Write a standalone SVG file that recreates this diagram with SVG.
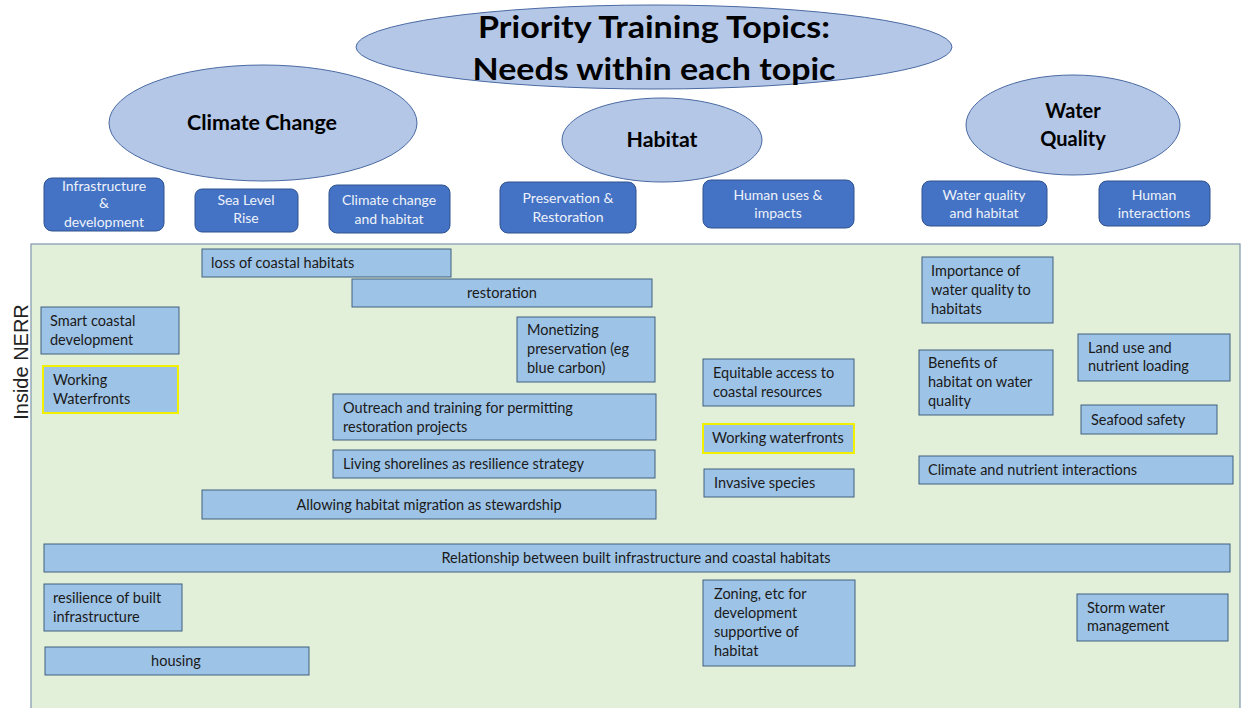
<svg xmlns="http://www.w3.org/2000/svg" width="1241" height="708" viewBox="0 0 1241 708">
<style>
.bg{fill:#ffffff}
.oval{fill:#b4c7e7;stroke:#4a6aa3;stroke-width:1}
.otxt{font-family:"Lato","Liberation Sans",sans-serif;font-weight:bold;fill:#000;text-anchor:middle}
.sub{fill:#4472c4;stroke:#2f528f;stroke-width:1}
.stxt{font-family:"Lato","Liberation Sans",sans-serif;font-size:14px;fill:#eef2fa;text-anchor:middle}
.panel{fill:#e2efd9;stroke:#7f96ad;stroke-width:1.2}
.box{fill:#9dc3e6;stroke:#41607f;stroke-width:1}
.hl{stroke:#f0f000;stroke-width:2}
.t{font-family:"Lato","Liberation Sans",sans-serif;font-size:14.5px;fill:#1a1a1a}
.c{text-anchor:middle}
</style>
<rect class="bg" x="0" y="0" width="1241" height="708"/>

<g id="title">
<ellipse class="oval" cx="654" cy="47" rx="298" ry="42"/>
<text class="otxt" x="654" y="38" font-size="31" textLength="352" lengthAdjust="spacingAndGlyphs">Priority Training Topics:</text>
<text class="otxt" x="654" y="80" font-size="31" textLength="363" lengthAdjust="spacingAndGlyphs">Needs within each topic</text>
</g>

<g id="climate-change">
<ellipse class="oval" cx="263" cy="123" rx="154" ry="58"/>
<text class="otxt" x="262" y="130" font-size="20" textLength="150" lengthAdjust="spacingAndGlyphs">Climate Change</text>
</g>
<g id="habitat">
<ellipse class="oval" cx="662" cy="140" rx="100" ry="42"/>
<text class="otxt" x="662" y="147" font-size="20" textLength="71" lengthAdjust="spacingAndGlyphs">Habitat</text>
</g>
<g id="water-quality">
<ellipse class="oval" cx="1073" cy="125" rx="107" ry="50"/>
<text class="otxt" x="1073" y="118" font-size="20">Water</text>
<text class="otxt" x="1073" y="146" font-size="20">Quality</text>
</g>

<g id="sub-infrastructure">
<rect class="sub" x="44" y="178" width="120" height="53" rx="8"/>
<text class="stxt" x="104" y="191">Infrastructure</text>
<text class="stxt" x="104" y="208">&amp;</text>
<text class="stxt" x="104" y="227">development</text>
</g>
<g id="sub-sea-level">
<rect class="sub" x="195" y="189" width="103" height="43" rx="7"/>
<text class="stxt" x="246" y="205">Sea Level</text>
<text class="stxt" x="246" y="223">Rise</text>
</g>
<g id="sub-climate-habitat">
<rect class="sub" x="329" y="185" width="121" height="48" rx="8"/>
<text class="stxt" x="389" y="205">Climate change</text>
<text class="stxt" x="389" y="224">and habitat</text>
</g>
<g id="sub-preservation">
<rect class="sub" x="500" y="182" width="136" height="51" rx="8"/>
<text class="stxt" x="568" y="203">Preservation &amp;</text>
<text class="stxt" x="568" y="222">Restoration</text>
</g>
<g id="sub-human-uses">
<rect class="sub" x="703" y="180" width="151" height="48" rx="8"/>
<text class="stxt" x="778" y="200">Human uses &amp;</text>
<text class="stxt" x="778" y="218">impacts</text>
</g>
<g id="sub-wq-habitat">
<rect class="sub" x="922" y="181" width="125" height="45" rx="8"/>
<text class="stxt" x="984" y="200">Water quality</text>
<text class="stxt" x="984" y="218">and habitat</text>
</g>
<g id="sub-human-interactions">
<rect class="sub" x="1099" y="181" width="111" height="45" rx="8"/>
<text class="stxt" x="1154" y="200">Human</text>
<text class="stxt" x="1154" y="218">interactions</text>
</g>

<g id="inside-nerr">
<rect class="panel" x="31" y="244" width="1209" height="470"/>
<text font-family="Liberation Sans, sans-serif" font-size="20" fill="#222" text-anchor="middle" transform="translate(28,362) rotate(-90)">Inside NERR</text>
</g>

<g id="loss-coastal">
<rect class="box" x="202" y="249" width="249" height="28"/>
<text class="t" x="211" y="268">loss of coastal habitats</text>
</g>
<g id="restoration">
<rect class="box" x="352" y="279" width="300" height="28"/>
<text class="t c" x="502" y="298">restoration</text>
</g>
<g id="smart-coastal">
<rect class="box" x="41" y="307" width="138" height="47"/>
<text class="t" x="50" y="326">Smart coastal</text>
<text class="t" x="50" y="345">development</text>
</g>
<g id="working-waterfronts-1">
<rect class="box hl" x="43" y="366" width="135" height="47"/>
<text class="t" x="53" y="385">Working</text>
<text class="t" x="53" y="404">Waterfronts</text>
</g>
<g id="monetizing">
<rect class="box" x="517" y="317" width="138" height="65"/>
<text class="t" x="527" y="335">Monetizing</text>
<text class="t" x="527" y="354">preservation (eg</text>
<text class="t" x="527" y="373">blue carbon)</text>
</g>
<g id="outreach">
<rect class="box" x="333" y="394" width="323" height="46"/>
<text class="t" x="343" y="413">Outreach and training for permitting</text>
<text class="t" x="343" y="432">restoration projects</text>
</g>
<g id="living-shorelines">
<rect class="box" x="333" y="450" width="322" height="28"/>
<text class="t" x="343" y="469">Living shorelines as resilience strategy</text>
</g>
<g id="habitat-migration">
<rect class="box" x="202" y="490" width="454" height="29"/>
<text class="t c" x="429" y="510">Allowing habitat migration as stewardship</text>
</g>
<g id="relationship">
<rect class="box" x="44" y="544" width="1186" height="28"/>
<text class="t c" x="636" y="563">Relationship between built infrastructure and coastal habitats</text>
</g>
<g id="resilience-built">
<rect class="box" x="44" y="584" width="138" height="47"/>
<text class="t" x="53" y="603">resilience of built</text>
<text class="t" x="53" y="622">infrastructure</text>
</g>
<g id="housing">
<rect class="box" x="45" y="647" width="264" height="28"/>
<text class="t c" x="176" y="666">housing</text>
</g>
<g id="equitable-access">
<rect class="box" x="703" y="359" width="151" height="47"/>
<text class="t" x="713" y="378">Equitable access to</text>
<text class="t" x="713" y="397">coastal resources</text>
</g>
<g id="working-waterfronts-2">
<rect class="box hl" x="703" y="424" width="151" height="29"/>
<text class="t" x="712" y="443">Working  waterfronts</text>
</g>
<g id="invasive">
<rect class="box" x="704" y="469" width="150" height="28"/>
<text class="t" x="714" y="488">Invasive species</text>
</g>
<g id="zoning">
<rect class="box" x="703" y="580" width="152" height="86"/>
<text class="t" x="714" y="599">Zoning, etc for</text>
<text class="t" x="714" y="618">development</text>
<text class="t" x="714" y="637">supportive of</text>
<text class="t" x="714" y="656">habitat</text>
</g>
<g id="importance-wq">
<rect class="box" x="922" y="257" width="131" height="66"/>
<text class="t" x="931" y="276">Importance  of</text>
<text class="t" x="931" y="295">water quality to</text>
<text class="t" x="931" y="314">habitats</text>
</g>
<g id="benefits-habitat">
<rect class="box" x="919" y="350" width="134" height="65"/>
<text class="t" x="928" y="368">Benefits of</text>
<text class="t" x="928" y="387">habitat on water</text>
<text class="t" x="928" y="406">quality</text>
</g>
<g id="land-use">
<rect class="box" x="1078" y="334" width="152" height="47"/>
<text class="t" x="1088" y="353">Land use and</text>
<text class="t" x="1088" y="371">nutrient  loading</text>
</g>
<g id="seafood">
<rect class="box" x="1081" y="405" width="136" height="29"/>
<text class="t" x="1091" y="425">Seafood safety</text>
</g>
<g id="climate-nutrient">
<rect class="box" x="919" y="456" width="314" height="28"/>
<text class="t" x="928" y="475">Climate and nutrient  interactions</text>
</g>
<g id="storm-water">
<rect class="box" x="1077" y="594" width="151" height="47"/>
<text class="t" x="1087" y="613">Storm  water</text>
<text class="t" x="1087" y="631">management</text>
</g>

<g id="connectors"></g>
</svg>
